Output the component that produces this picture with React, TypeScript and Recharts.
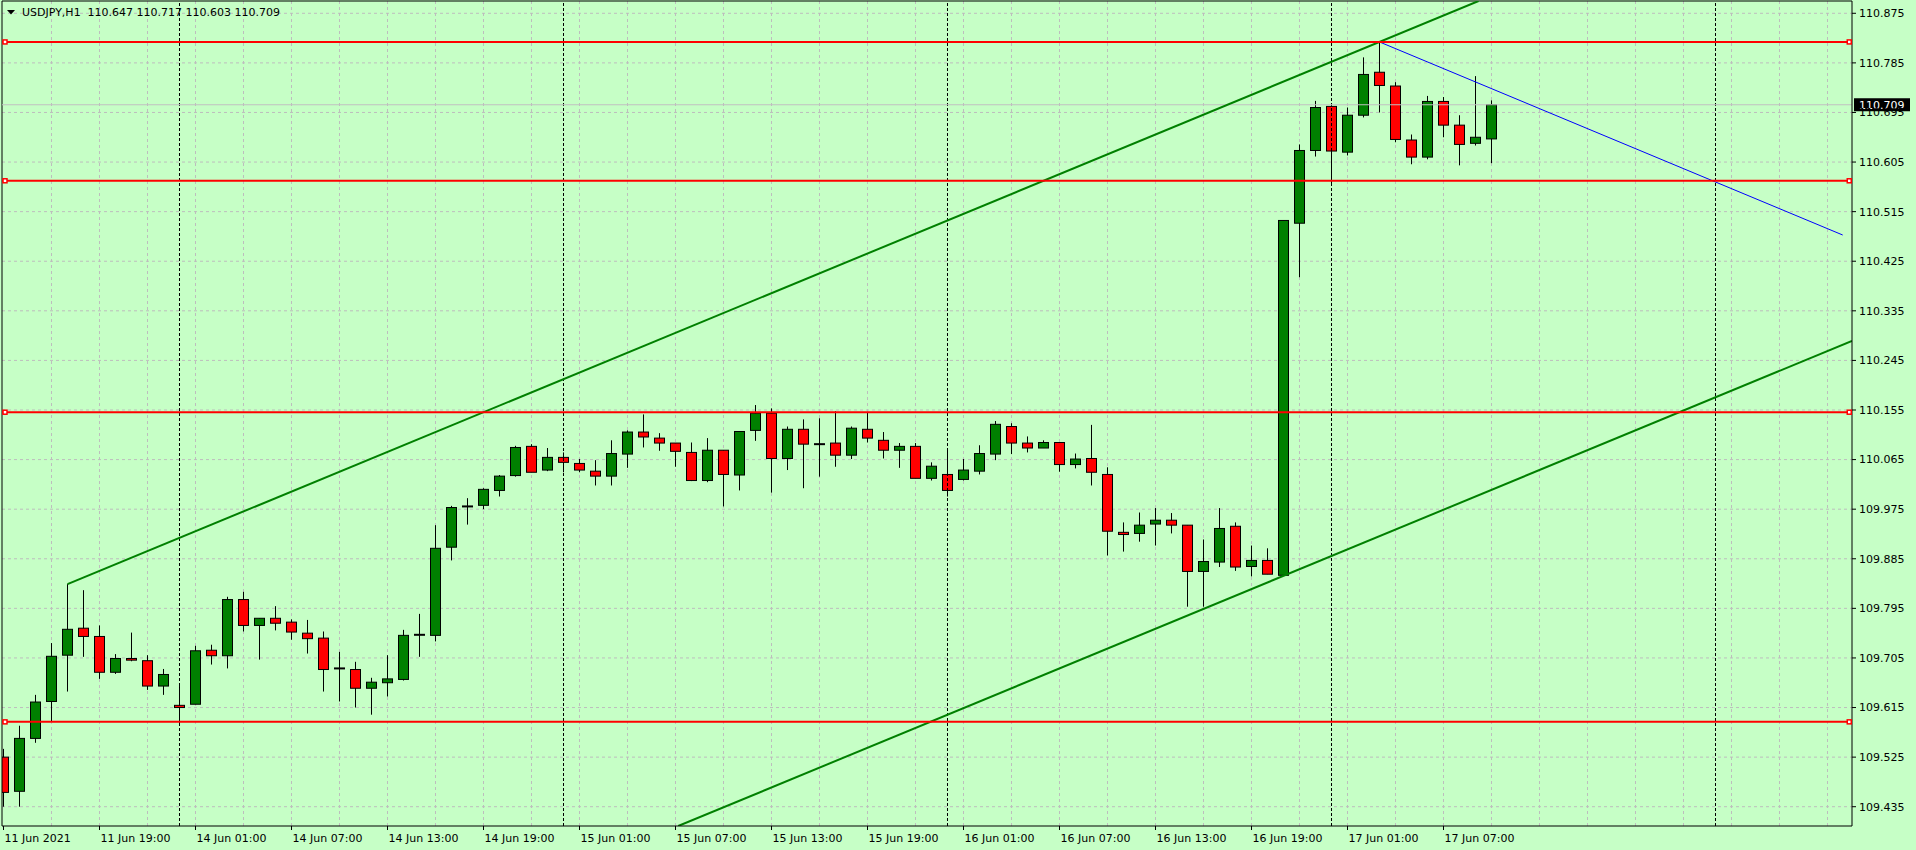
import React from 'react';
import {
  ComposedChart,
  Bar,
  XAxis,
  YAxis,
  CartesianGrid,
  ReferenceLine,
  ReferenceDot,
} from 'recharts';

// ---------- DATA (USDJPY H1, bar index 0 = 11 Jun 2021 13:00) ----------
const opens = [
  109.525, 109.463, 109.559, 109.626, 109.710, 109.759, 109.744, 109.679, 109.704, 109.700,
  109.654, 109.619, 109.621, 109.719, 109.709, 109.811, 109.764, 109.777, 109.770, 109.750,
  109.741, 109.686, 109.684, 109.650, 109.660, 109.666, 109.747, 109.746, 109.906, 109.980,
  109.982, 110.009, 110.036, 110.089, 110.046, 110.069, 110.058, 110.044, 110.035, 110.075,
  110.115, 110.104, 110.095, 110.078, 110.027, 110.082, 110.037, 110.118, 110.149, 110.067,
  110.120, 110.093, 110.095, 110.073, 110.120, 110.100, 110.082, 110.089, 110.031, 110.038,
  110.029, 110.044, 110.075, 110.125, 110.095, 110.086, 110.096, 110.056, 110.067, 110.038,
  109.933, 109.931, 109.948, 109.955, 109.946, 109.862, 109.879, 109.944, 109.871, 109.882,
  109.855, 110.494, 110.626, 110.706, 110.623, 110.690, 110.768, 110.743, 110.645, 110.614,
  110.715, 110.672, 110.639, 110.647,
];
const highs = [
  109.540, 109.582, 109.638, 109.732, 109.839, 109.828, 109.764, 109.712, 109.751, 109.710,
  109.685, 109.654, 109.727, 109.729, 109.816, 109.825, 109.777, 109.799, 109.775, 109.774,
  109.753, 109.716, 109.698, 109.669, 109.710, 109.756, 109.785, 109.946, 109.981, 109.995,
  110.013, 110.037, 110.090, 110.093, 110.086, 110.078, 110.066, 110.064, 110.100, 110.118,
  110.147, 110.113, 110.095, 110.096, 110.104, 110.082, 110.116, 110.164, 110.158, 110.125,
  110.138, 110.140, 110.153, 110.125, 110.151, 110.115, 110.095, 110.095, 110.060, 110.082,
  110.066, 110.091, 110.135, 110.131, 110.107, 110.100, 110.096, 110.076, 110.128, 110.051,
  109.951, 109.969, 109.977, 109.968, 109.946, 109.920, 109.977, 109.951, 109.909, 109.904,
  110.499, 110.637, 110.716, 110.706, 110.704, 110.795, 110.823, 110.750, 110.655, 110.725,
  110.723, 110.690, 110.761, 110.717,
];
const lows = [
  109.435, 109.435, 109.551, 109.589, 109.644, 109.707, 109.667, 109.676, 109.699, 109.647,
  109.638, 109.586, 109.621, 109.693, 109.686, 109.753, 109.702, 109.755, 109.738, 109.713,
  109.644, 109.626, 109.615, 109.602, 109.635, 109.664, 109.707, 109.735, 109.882, 109.947,
  109.975, 109.998, 110.034, 110.042, 110.044, 110.042, 110.042, 110.018, 110.018, 110.050,
  110.087, 110.081, 110.052, 110.026, 110.024, 109.980, 110.009, 110.099, 110.005, 110.046,
  110.013, 110.034, 110.052, 110.066, 110.096, 110.067, 110.050, 110.031, 110.027, 109.998,
  110.027, 110.038, 110.064, 110.075, 110.078, 110.086, 110.043, 110.049, 110.018, 109.891,
  109.898, 109.916, 109.909, 109.931, 109.798, 109.798, 109.870, 109.863, 109.853, 109.857,
  109.854, 110.396, 110.615, 110.565, 110.617, 110.686, 110.695, 110.641, 110.601, 110.610,
  110.650, 110.599, 110.635, 110.603,
];
const closes = [
  109.461, 109.559, 109.625, 109.708, 109.757, 109.744, 109.679, 109.704, 109.701, 109.654,
  109.675, 109.615, 109.718, 109.709, 109.811, 109.764, 109.777, 109.768, 109.752, 109.740,
  109.684, 109.686, 109.650, 109.661, 109.667, 109.746, 109.747, 109.904, 109.978, 109.980,
  110.011, 110.035, 110.087, 110.042, 110.069, 110.060, 110.046, 110.035, 110.076, 110.115,
  110.106, 110.095, 110.080, 110.027, 110.082, 110.038, 110.116, 110.149, 110.067, 110.120,
  110.093, 110.093, 110.073, 110.122, 110.104, 110.082, 110.089, 110.031, 110.053, 110.009,
  110.046, 110.076, 110.129, 110.095, 110.086, 110.096, 110.056, 110.066, 110.042, 109.935,
  109.929, 109.946, 109.955, 109.946, 109.862, 109.880, 109.940, 109.870, 109.882, 109.857,
  110.499, 110.626, 110.704, 110.625, 110.690, 110.764, 110.744, 110.646, 110.614, 110.715,
  110.672, 110.637, 110.650, 110.709,
];

const xTickBars = [0, 6, 12, 18, 24, 30, 36, 42, 48, 54, 60, 66, 72, 78, 84, 90];
const xTickLabels = [
  '11 Jun 2021', '11 Jun 19:00', '14 Jun 01:00', '14 Jun 07:00', '14 Jun 13:00', '14 Jun 19:00',
  '15 Jun 01:00', '15 Jun 07:00', '15 Jun 13:00', '15 Jun 19:00', '16 Jun 01:00', '16 Jun 07:00',
  '16 Jun 13:00', '16 Jun 19:00', '17 Jun 01:00', '17 Jun 07:00',
];
const yTicks = [
  110.875, 110.785, 110.695, 110.605, 110.515, 110.425, 110.335, 110.245, 110.155,
  110.065, 109.975, 109.885, 109.795, 109.705, 109.615, 109.525, 109.435,
];
const redLevels = [110.823, 110.571, 110.151, 109.589];
const daySeparatorBars = [11, 35, 59, 83, 107];
const bidPrice = 110.709;
const headerText = 'USDJPY,H1  110.647 110.717 110.603 110.709';

const upperChannel = [{ x: 4, y: 109.839 }, { x: 92.19, y: 110.8973 }];
const lowerChannel = [{ x: 42.17, y: 109.4 }, { x: 115.53, y: 110.2804 }];
const blueTrend = [{ x: 86, y: 110.823 }, { x: 114.95, y: 110.4726 }];

// ---------- LAYOUT ----------
const W = 1916;
const H = 850;
const X_DOMAIN: [number, number] = [-0.09375, 115.53125];
const Y_DOMAIN: [number, number] = [109.4, 110.8973];
const gridBars = Array.from({ length: 38 }, (_, i) => 3 + i * 3);
const BG = '#C6FFC6';
const BULL = '#008000';
const BEAR = '#FF0000';
const FONT = 'DejaVu Sans';

const data = opens.map((o, i) => ({
  k: i,
  o,
  h: highs[i],
  l: lows[i],
  c: closes[i],
}));

const Candle = (props: any) => {
  const { x, y, width, height, payload } = props;
  if (!payload) return null;
  const { o, h, l, c } = payload;
  const cx = x + width / 2;
  const span = h - l;
  const py = (p: number) => (span === 0 ? y : y + ((h - p) / span) * height);
  const top = py(Math.max(o, c));
  const bot = py(Math.min(o, c));
  const bull = c > o;
  return (
    <g>
      <line x1={cx} x2={cx} y1={py(h)} y2={py(l)} stroke="#000" strokeWidth={1} />
      {o === c ? (
        <line x1={cx - 5.5} x2={cx + 5.5} y1={top} y2={top} stroke="#000" strokeWidth={2} />
      ) : (
        <rect
          x={cx - 5}
          y={top}
          width={10}
          height={Math.max(bot - top, 1)}
          fill={bull ? BULL : BEAR}
          stroke="#000"
          strokeWidth={1}
        />
      )}
    </g>
  );
};

const SquareMarker = (props: any) => {
  const { cx, cy } = props;
  return <rect x={cx - 2} y={cy - 2} width={4} height={4} fill="#FFFFFF" stroke={BEAR} strokeWidth={1.5} />;
};

const XTick = (props: any) => {
  const { x, y, payload } = props;
  const idx = xTickBars.indexOf(payload.value);
  return (
    <text x={x + 1} y={y + 10} fill="#000" fontSize={11} fontFamily={FONT} textAnchor="start">
      {idx >= 0 ? xTickLabels[idx] : ''}
    </text>
  );
};

const BidLabel = (props: any) => {
  const vb = props.viewBox || {};
  const bx = (vb.x || 0) + (vb.width || 0) + 2;
  const by = vb.y || 0;
  return (
    <g>
      <rect x={bx} y={by - 6.5} width={56} height={13} fill="#000" />
      <text x={bx + 5} y={by} dy="0.355em" fill="#FFFFFF" fontSize={11} fontFamily={FONT}>
        {bidPrice.toFixed(3)}
      </text>
    </g>
  );
};

export default function App() {
  return (
    <div style={{ position: 'absolute', left: 0, top: 0, width: W, height: H, background: BG, overflow: 'hidden' }}>
      <ComposedChart
        width={W}
        height={H}
        data={data}
        margin={{ top: 1, right: 0, left: 2, bottom: 0 }}
      >
        <CartesianGrid
          stroke="#BDBDBD"
          strokeDasharray="3 3"
          verticalValues={gridBars}
          horizontalValues={yTicks}
        />
        <XAxis
          dataKey="k"
          type="number"
          domain={X_DOMAIN}
          allowDataOverflow
          ticks={xTickBars}
          interval={0}
          height={24}
          tickSize={4}
          tickMargin={2}
          axisLine={{ stroke: '#000', strokeWidth: 1 }}
          tickLine={{ stroke: '#000' }}
          tick={<XTick />}
        />
        <YAxis
          orientation="right"
          type="number"
          domain={Y_DOMAIN}
          allowDataOverflow
          ticks={yTicks}
          interval={0}
          width={64}
          tickSize={4}
          tickMargin={3}
          axisLine={{ stroke: '#000', strokeWidth: 1 }}
          tickLine={{ stroke: '#000' }}
          tick={{ fill: '#000', fontSize: 11, fontFamily: FONT }}
          tickFormatter={(v: number) => v.toFixed(3)}
        />
        <ReferenceLine x={X_DOMAIN[0]} stroke="#000" strokeWidth={1} ifOverflow="visible" />
        <ReferenceLine y={Y_DOMAIN[1]} stroke="#000" strokeWidth={1} ifOverflow="visible" />
        {daySeparatorBars.map((b) => (
          <ReferenceLine key={'d' + b} x={b} stroke="#000" strokeDasharray="3 2" strokeWidth={1} />
        ))}
        <ReferenceLine y={bidPrice} stroke="#C0C0C0" strokeWidth={1} label={<BidLabel />} />
        <ReferenceLine segment={upperChannel} stroke={BULL} strokeWidth={2} ifOverflow="hidden" />
        <ReferenceLine segment={lowerChannel} stroke={BULL} strokeWidth={2} ifOverflow="hidden" />
        <ReferenceLine segment={blueTrend} stroke="#0000FF" strokeWidth={1} ifOverflow="hidden" />
        {redLevels.map((lv) => (
          <ReferenceLine key={'r' + lv} y={lv} stroke={BEAR} strokeWidth={2} />
        ))}
        <Bar
          dataKey={(d: any) => [d.l, d.h]}
          barSize={10}
          shape={<Candle />}
          isAnimationActive={false}
        />
        {redLevels.map((lv) => (
          <ReferenceDot key={'sl' + lv} x={0.094} y={lv} r={3} shape={<SquareMarker />} ifOverflow="visible" />
        ))}
        {redLevels.map((lv) => (
          <ReferenceDot key={'sr' + lv} x={115.36} y={lv} r={3} shape={<SquareMarker />} ifOverflow="visible" />
        ))}
      </ComposedChart>
      <div
        style={{
          position: 'absolute',
          left: 6,
          top: 5,
          fontFamily: FONT,
          fontSize: 11,
          lineHeight: '15px',
          color: '#000',
          whiteSpace: 'pre',
          display: 'flex',
          alignItems: 'center',
        }}
      >
        <svg width={16} height={15} style={{ display: 'block' }}>
          <polygon points="1,5 9,5 5,9.5" fill="#000" />
        </svg>
        <span>{headerText}</span>
      </div>
    </div>
  );
}
